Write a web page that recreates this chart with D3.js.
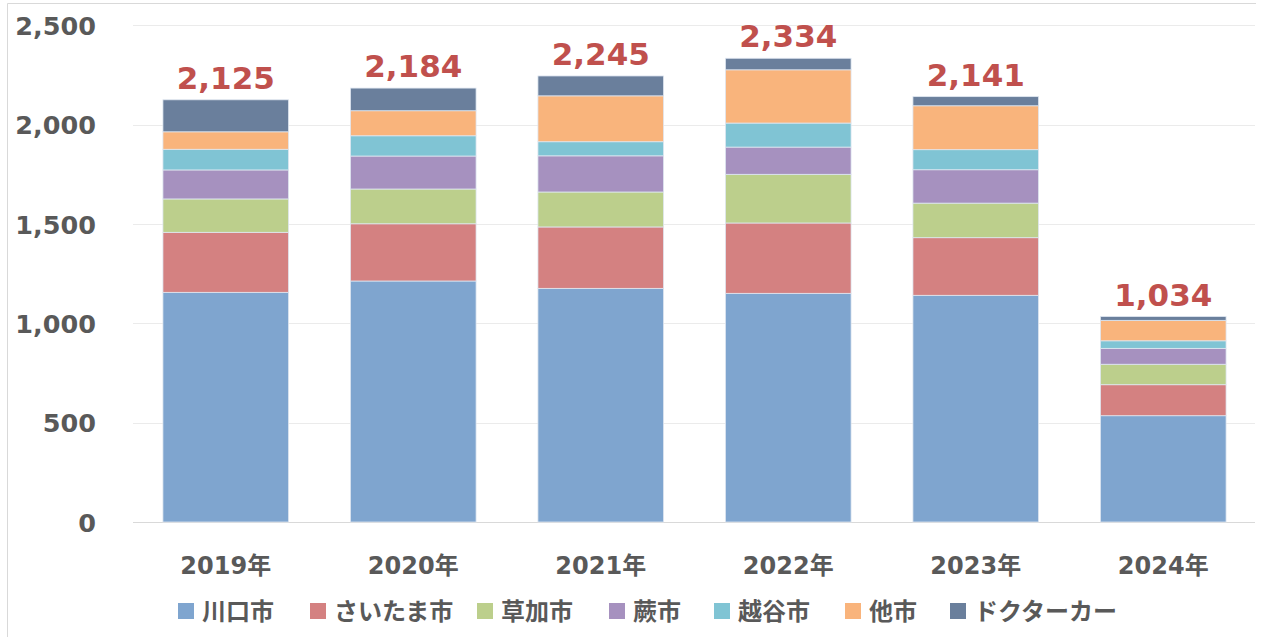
<!DOCTYPE html>
<html><head><meta charset="utf-8">
<script src="https://cdn.jsdelivr.net/npm/d3@7"></script>
<style>
html,body{margin:0;padding:0;background:#fff;}
text{font-family:"DejaVu Sans","Noto Sans CJK JP",sans-serif;font-weight:bold;}
</style></head>
<body>
<svg id="c" width="1268" height="637"></svg>
<script>
const years = ["2019年","2020年","2021年","2022年","2023年","2024年"];
const seriesNames = ["川口市","さいたま市","草加市","蕨市","越谷市","他市","ドクターカー"];
const kawaguchi = [1156,1213,1176,1151,1141,535];
const saitama   = [302,288,309,354,290,156];
const soka      = [168,175,176,245,174,103];
const warabi    = [146,166,182,137,168,80];
const koshigaya = [104,102,71,121,101,38];
const other     = [88,126,231,268,221,103];
const doctorCar = [161,114,100,58,46,19];
const totals    = [2125,2184,2245,2334,2141,1034];
const yTicks    = [0,500,1000,1500,2000,2500];
const colors    = ["#7fa5cf","#d48181","#bccf8c","#a691bf","#80c4d4","#f9b47c","#6a7f9c"];

const seriesValues = [kawaguchi,saitama,soka,warabi,koshigaya,other,doctorCar];
const rows = years.map((y,i)=>{const r={year:y};seriesNames.forEach((s,j)=>r[s]=seriesValues[j][i]);return r;});
const stack = d3.stack().keys(seriesNames)(rows);

const svg = d3.select("#c");
// frame
svg.append("path").attr("d","M7.5,637 V3.5 H1256").attr("fill","none").attr("stroke","#d9d9d9").attr("stroke-width",1);

const x = d3.scaleBand().domain(years).range([132,1257]).paddingInner(0.33).paddingOuter(0.165);
const y = d3.scaleLinear().domain([0,2500]).range([522,25.3]);

// gridlines
svg.append("g").selectAll("line").data(yTicks).join("line")
  .attr("x1",133).attr("x2",1255)
  .attr("y1",d=>Math.round(y(d))+0.5).attr("y2",d=>Math.round(y(d))+0.5)
  .attr("stroke",d=>d===0?"#d9d9d9":"#ebebeb").attr("stroke-width",1);

// y axis labels
const yAxis = d3.axisLeft(y).tickValues(yTicks).tickFormat(d3.format(",")).tickSize(0).tickPadding(0);
const ya = svg.append("g").attr("transform","translate(96,0)").call(yAxis);
ya.select(".domain").remove();
ya.selectAll("text").attr("fill","#595959").style("font-size","25.5px").style("font-family","DejaVu Sans, Noto Sans CJK JP").style("font-weight","bold").attr("dy","0.36em");

// bars
svg.append("g").selectAll("g").data(stack).join("g")
  .attr("fill",(d,i)=>colors[i])
  .selectAll("rect").data(d=>d).join("rect")
  .attr("x",d=>x(d.data.year)).attr("width",x.bandwidth())
  .attr("y",d=>y(d[1])).attr("height",d=>y(d[0])-y(d[1]))
  .attr("stroke","#dfe7f1").attr("stroke-width",0.8);

// totals
svg.append("g").selectAll("text").data(years).join("text")
  .attr("x",d=>x(d)+x.bandwidth()/2)
  .attr("y",(d,i)=>y(totals[i])-11)
  .attr("text-anchor","middle").attr("fill","#c0504d").style("font-size","31px")
  .text((d,i)=>d3.format(",")(totals[i]));

// x axis labels
const xAxis = d3.axisBottom(x).tickSize(0).tickPadding(0);
const xa = svg.append("g").attr("transform","translate(0,574)").call(xAxis);
xa.select(".domain").remove();
xa.selectAll("text").attr("fill","#595959").style("font-size","24px").style("font-family","DejaVu Sans, Noto Sans CJK JP").style("font-weight","bold").attr("dy","0");

// legend
const legX = [178,310,477,609,714,845,950];
const lg = svg.append("g").selectAll("g").data(seriesNames).join("g")
  .attr("transform",(d,i)=>`translate(${legX[i]},611)`);
lg.append("rect").attr("x",0).attr("y",-8).attr("width",16).attr("height",16).attr("fill",(d,i)=>colors[i]);
lg.append("text").attr("x",24).attr("y",0).attr("dy","0.36em").attr("fill","#595959").style("font-size","24px")
  .style("font-family","Noto Sans CJK JP, DejaVu Sans").text(d=>d);
</script>
</body></html>
